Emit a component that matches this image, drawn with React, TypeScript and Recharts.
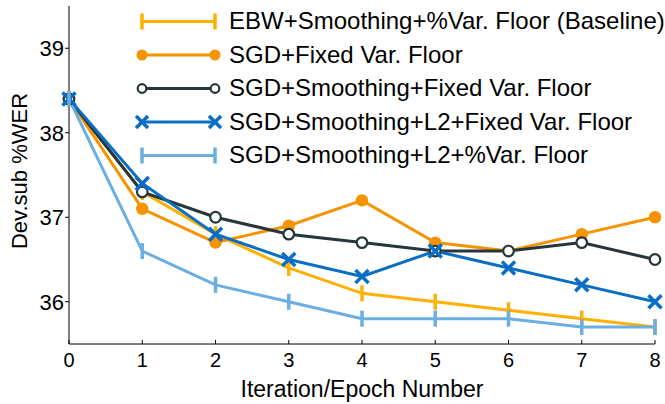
import React from 'react';
import { LineChart, Line, XAxis, YAxis } from 'recharts';

const epochs = [0, 1, 2, 3, 4, 5, 6, 7, 8];
const ebwBaseline = [38.4, 37.3, 36.8, 36.4, 36.1, 36.0, 35.9, 35.8, 35.7];
const sgdFixed = [38.4, 37.1, 36.7, 36.9, 37.2, 36.7, 36.6, 36.8, 37.0];
const sgdSmoothFixed = [38.4, 37.3, 37.0, 36.8, 36.7, 36.6, 36.6, 36.7, 36.5];
const sgdSmoothL2Fixed = [38.4, 37.4, 36.8, 36.5, 36.3, 36.6, 36.4, 36.2, 36.0];
const sgdSmoothL2Pct = [38.4, 36.6, 36.2, 36.0, 35.8, 35.8, 35.8, 35.7, 35.7];
const yTicks = [36, 37, 38, 39];

const data = epochs.map((e, i) => ({
  epoch: e,
  ebw: ebwBaseline[i],
  sgdFixed: sgdFixed[i],
  sgdSmooth: sgdSmoothFixed[i],
  sgdL2: sgdSmoothL2Fixed[i],
  sgdL2Pct: sgdSmoothL2Pct[i],
}));

const FONT = '"Liberation Sans", Arial, Helvetica, sans-serif';

type Marker = 'bar' | 'dot' | 'ring' | 'cross';

const series = [
  { key: 'ebw', name: 'EBW+Smoothing+%Var. Floor (Baseline)', color: '#ffb000', marker: 'bar' as Marker },
  { key: 'sgdFixed', name: 'SGD+Fixed Var. Floor', color: '#f59300', marker: 'dot' as Marker },
  { key: 'sgdSmooth', name: 'SGD+Smoothing+Fixed Var. Floor', color: '#27363b', marker: 'ring' as Marker },
  { key: 'sgdL2', name: 'SGD+Smoothing+L2+Fixed Var. Floor', color: '#0a6ec4', marker: 'cross' as Marker },
  { key: 'sgdL2Pct', name: 'SGD+Smoothing+L2+%Var. Floor', color: '#6aaee2', marker: 'bar' as Marker },
];

const drawMarker = (m: Marker, cx: number, cy: number, color: string, k?: string, small = false) => {
  if (m === 'bar') {
    return <line key={k} x1={cx} x2={cx} y1={cy - 8} y2={cy + 8} stroke={color} strokeWidth={3.5} />;
  }
  if (m === 'dot') {
    return <circle key={k} cx={cx} cy={cy} r={small ? 5.5 : 6.2} fill={color} stroke="none" />;
  }
  if (m === 'ring') {
    return <circle key={k} cx={cx} cy={cy} r={small ? 4.3 : 5.3} fill="#fff" stroke={color} strokeWidth={2.2} />;
  }
  const h = small ? 6 : 6.5;
  return (
    <g key={k}>
      <line x1={cx - h} x2={cx + h} y1={cy - h} y2={cy + h} stroke={color} strokeWidth={3.5} />
      <line x1={cx - h} x2={cx + h} y1={cy + h} y2={cy - h} stroke={color} strokeWidth={3.5} />
    </g>
  );
};

const makeDot = (m: Marker, color: string) => (props: any) => {
  const { cx, cy, index } = props;
  return drawMarker(m, cx, cy, color, `d-${index}`);
};

const LegendBox = () => (
  <svg width={545} height={180} style={{ position: 'absolute', left: 120, top: 0 }}>
    {series.map((s, i) => {
      const y = 21.5 + i * 33.5;
      return (
        <g key={s.key}>
          <line x1={22} x2={95} y1={y} y2={y} stroke={s.color} strokeWidth={3} />
          {drawMarker(s.marker, 22, y, s.color, undefined, true)}
          {drawMarker(s.marker, 95, y, s.color, undefined, true)}
          <text x={109} y={y + 7.5} fontSize={24} fontFamily={FONT} fill="#000">
            {s.name}
          </text>
        </g>
      );
    })}
  </svg>
);

const XTick = (props: any) => {
  const { x, y, payload } = props;
  return (
    <g>
      <line x1={x} x2={x} y1={y - 4} y2={y} stroke="#000" strokeWidth={1} />
      <text x={x} y={y + 23} textAnchor="middle" fontSize={20} fontFamily={FONT} fill="#000">
        {payload.value}
      </text>
    </g>
  );
};

export default function App() {
  return (
    <div style={{ position: 'absolute', left: 0, top: 0, width: 665, height: 404, background: '#fff' }}>
      <LineChart width={665} height={404} data={data} margin={{ top: 6, right: 10, bottom: 0, left: 0 }}>
        <XAxis
          dataKey="epoch"
          type="number"
          domain={[0, 8]}
          ticks={epochs}
          tickSize={0}
          tickMargin={0}
          tickLine={false}
          tick={<XTick />}
          height={60}
          axisLine={{ stroke: '#000', strokeWidth: 1 }}
          label={{ value: 'Iteration/Epoch Number', position: 'insideBottom', offset: 7, fontSize: 23, fontFamily: FONT, fill: '#000' }}
        />
        <YAxis
          type="number"
          domain={[35.5, 39.5]}
          ticks={yTicks}
          width={69}
          tickSize={4}
          tickMargin={1}
          tickLine={{ stroke: '#000' }}
          axisLine={{ stroke: '#000', strokeWidth: 1 }}
          tick={{ fontSize: 22, fontFamily: FONT, fill: '#000' }}
          label={{ value: 'Dev.sub %WER', angle: -90, position: 'insideLeft', offset: 19, dy: -4, fontSize: 22, fontFamily: FONT, fill: '#000', style: { textAnchor: 'middle' } }}
        />
        {series.map((s) => (
          <Line
            key={s.key}
            dataKey={s.key}
            name={s.name}
            stroke={s.color}
            strokeWidth={3}
            type="linear"
            dot={makeDot(s.marker, s.color)}
            activeDot={false}
            isAnimationActive={false}
          />
        ))}
      </LineChart>
      <LegendBox />
    </div>
  );
}
